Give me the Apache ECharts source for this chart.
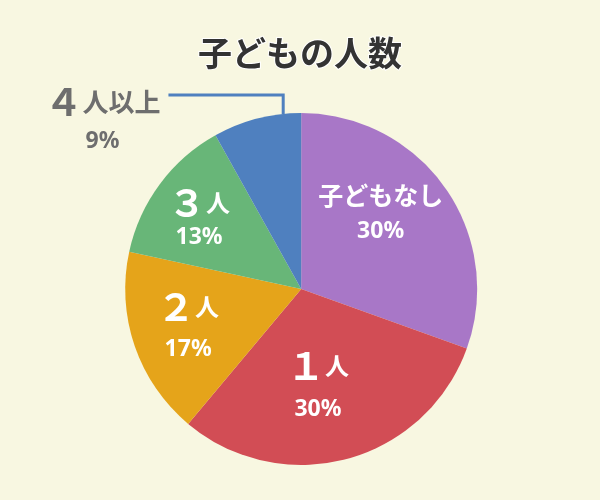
<!DOCTYPE html>
<html>
<head>
<meta charset="utf-8">
<script src="https://cdn.jsdelivr.net/npm/echarts@6/dist/echarts.min.js"></script>
<style>
html,body{margin:0;padding:0;background:#f8f7e1;}
#c{width:600px;height:500px;}
</style>
</head>
<body>
<div id="c"></div>
<script>
const titleText = '子どもの人数';
const categories = ['子どもなし', '１人', '２人', '３人', '４人以上'];
// slice shares as drawn in the picture (angles)
const values = [30.5, 30.6, 17.3, 13.5, 8.1];
// percentage texts printed on the chart
const pctLabels = ['30%', '30%', '17%', '13%', '9%'];
const colors = ['#a877c7', '#d24d55', '#e5a41a', '#68b678', '#4f80bf'];
const labelOffsets = [[5, -26], [-7, 10], [-27, 8], [-29, -20], [0, 0]];
const pctLineHeights = [30, 42, 40, 24, 38];

const CJK = '"Noto Sans CJK JP", "Noto Sans", sans-serif';
const LAT = '"Noto Sans", "Noto Sans CJK JP", sans-serif';

function fmt(p) {
  const name = p.name;
  const first = name.charAt(0);
  const pct = pctLabels[p.dataIndex];
  if (/[０-９]/.test(first)) {
    return '{num|' + first + '}{unit|' + name.slice(1) + '}\n{pct|' + pct + '}';
  }
  return '{name|' + name + '}\n{pct|' + pct + '}';
}

function richFor(i, color) {
  return {
    num: {fontSize: 38, fontWeight: 'bold', color: color, fontFamily: CJK, lineHeight: i === 4 ? 40 : 46},
    unit: {fontSize: i === 4 ? 26 : 24, fontWeight: 'bold', color: color, fontFamily: CJK, lineHeight: i === 4 ? 40 : 46},
    name: {fontSize: 25, fontWeight: 'bold', color: color, fontFamily: CJK, lineHeight: 42},
    pct: {fontSize: 23, fontWeight: 'bold', color: color, fontFamily: LAT, lineHeight: pctLineHeights[i]}
  };
}

const data = categories.map((c, i) => {
  const d = {name: c, value: values[i], itemStyle: {color: colors[i]}};
  if (i < 4) {
    d.label = {position: 'inside', offset: labelOffsets[i], rich: richFor(i, '#ffffff'), formatter: fmt};
  } else {
    d.label = {position: 'outside', rich: richFor(i, '#6e6e6e'), formatter: fmt};
    d.labelLine = {show: true, lineStyle: {color: '#4f80bf', width: 3}, smooth: false};
  }
  return d;
});

const chart = echarts.init(document.getElementById('c'));
chart.setOption({
  backgroundColor: '#f8f7e1',
  animation: false,
  title: {
    text: titleText,
    left: 'center',
    top: 31,
    textStyle: {fontSize: 34, fontWeight: 'bold', color: '#333', fontFamily: CJK, textBorderColor: '#ffffff', textBorderWidth: 2}
  },
  series: [{
    type: 'pie',
    center: ['50.2%', '57.8%'],
    radius: 176,
    startAngle: 90,
    clockwise: true,
    avoidLabelOverlap: false,
    itemStyle: {borderWidth: 0},
    label: {show: true},
    labelLine: {show: false},
    labelLayout: function (params) {
      if (params.dataIndex !== 4) return {};
      const r = params.rect;
      const lr = params.labelRect;
      const lx = r.x - 113;
      const ly = r.y + 8;
      const xStart = r.x + r.width - 18;
      const yTop = r.y - 18;
      return {
        x: lx, y: ly, align: 'center', verticalAlign: 'middle',
        labelLinePoints: [[xStart, r.y + 1], [xStart, yTop], [lx + lr.width / 2 + 8, yTop]]
      };
    },
    data: data
  }]
});
</script>
</body>
</html>
